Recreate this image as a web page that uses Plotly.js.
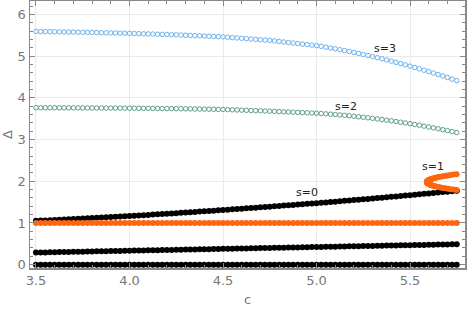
<!DOCTYPE html>
<html>
<head>
<meta charset="utf-8">
<script src="https://cdn.plot.ly/plotly-3.0.1.min.js"></script>
<style>html,body{margin:0;padding:0;background:#fff;}#chart{width:467px;height:309px;}</style>
</head>
<body>
<div id="chart"></div>
<script>
const c = [3.5,3.525,3.55,3.575,3.6,3.625,3.65,3.675,3.7,3.725,
3.75,3.775,3.8,3.825,3.85,3.875,3.9,3.925,3.95,3.975,
4,4.025,4.05,4.075,4.1,4.125,4.15,4.175,4.2,4.225,
4.25,4.275,4.3,4.325,4.35,4.375,4.4,4.425,4.45,4.475,
4.5,4.525,4.55,4.575,4.6,4.625,4.65,4.675,4.7,4.725,
4.75,4.775,4.8,4.825,4.85,4.875,4.9,4.925,4.95,4.975,
5,5.025,5.05,5.075,5.1,5.125,5.15,5.175,5.2,5.225,
5.25,5.275,5.3,5.325,5.35,5.375,5.4,5.425,5.45,5.475,
5.5,5.525,5.55,5.575,5.6,5.625,5.65,5.675,5.7,5.725,5.75];

const zeroBranch = [0,0,0,0,0,0,0,0,0,0, 0,0,0,0,0,0,0,0,0,0, 0,0,0,0,0,0,0,0,0,0,
0,0,0,0,0,0,0,0,0,0, 0,0,0,0,0,0,0,0,0,0, 0,0,0,0,0,0,0,0,0,0,
0,0,0,0,0,0,0,0,0,0, 0,0,0,0,0,0,0,0,0,0, 0,0,0,0,0,0,0,0,0,0,0];

const lowBranch = [0.290,0.292,0.294,0.297,0.299,0.301,0.303,0.306,0.308,0.310,
0.312,0.314,0.317,0.319,0.321,0.323,0.326,0.328,0.330,0.332,
0.334,0.337,0.339,0.341,0.343,0.346,0.348,0.350,0.352,0.354,
0.357,0.359,0.361,0.363,0.366,0.368,0.370,0.372,0.374,0.377,
0.379,0.381,0.383,0.386,0.388,0.390,0.392,0.394,0.397,0.399,
0.401,0.403,0.406,0.408,0.410,0.412,0.414,0.417,0.419,0.421,
0.423,0.426,0.428,0.430,0.432,0.434,0.437,0.439,0.441,0.443,
0.446,0.448,0.450,0.452,0.454,0.457,0.459,0.461,0.463,0.466,
0.468,0.470,0.472,0.474,0.477,0.479,0.481,0.483,0.486,0.488,0.490];

const s0 = [1.050,1.056,1.061,1.067,1.072,1.078,1.083,1.089,1.094,1.100,
1.105,1.111,1.117,1.123,1.129,1.135,1.141,1.147,1.153,1.159,
1.165,1.172,1.179,1.186,1.193,1.200,1.207,1.214,1.221,1.228,
1.235,1.243,1.250,1.258,1.265,1.273,1.280,1.288,1.295,1.303,
1.310,1.318,1.326,1.334,1.342,1.350,1.358,1.366,1.374,1.382,
1.390,1.399,1.407,1.416,1.424,1.433,1.441,1.450,1.458,1.467,
1.475,1.484,1.493,1.502,1.511,1.520,1.529,1.538,1.547,1.556,
1.565,1.575,1.585,1.595,1.605,1.615,1.625,1.635,1.645,1.655,
1.665,1.676,1.686,1.697,1.707,1.718,1.728,1.739,1.749,1.760,1.770];

const s1Flat = [1,1,1,1,1,1,1,1,1,1, 1,1,1,1,1,1,1,1,1,1, 1,1,1,1,1,1,1,1,1,1,
1,1,1,1,1,1,1,1,1,1, 1,1,1,1,1,1,1,1,1,1, 1,1,1,1,1,1,1,1,1,1,
1,1,1,1,1,1,1,1,1,1, 1,1,1,1,1,1,1,1,1,1, 1,1,1,1,1,1,1,1,1,1,1];

const foldC = [5.749,5.733,5.717,5.703,5.689,5.676,5.664,5.653,5.643,5.634,
5.626,5.618,5.612,5.606,5.601,5.597,5.594,5.592,5.590,5.590,
5.590,5.592,5.594,5.597,5.601,5.606,5.612,5.618,5.626,5.634,
5.643,5.653,5.664,5.676,5.689,5.703,5.717,5.733,5.749];
const foldD = [2.170,2.160,2.150,2.140,2.130,2.120,2.110,2.100,2.090,2.080,
2.070,2.060,2.050,2.040,2.030,2.020,2.010,2.000,1.990,1.980,
1.970,1.960,1.950,1.940,1.930,1.920,1.910,1.900,1.890,1.880,
1.870,1.860,1.850,1.840,1.830,1.820,1.810,1.800,1.790];

const s2 = [3.762,3.762,3.761,3.761,3.761,3.760,3.760,3.760,3.759,3.759,
3.758,3.757,3.756,3.756,3.755,3.754,3.753,3.753,3.752,3.751,
3.750,3.749,3.748,3.747,3.746,3.745,3.744,3.743,3.742,3.741,
3.740,3.738,3.736,3.734,3.732,3.730,3.728,3.726,3.724,3.722,
3.720,3.716,3.712,3.708,3.704,3.700,3.696,3.692,3.688,3.684,
3.680,3.675,3.670,3.665,3.660,3.655,3.650,3.645,3.640,3.635,
3.630,3.623,3.615,3.607,3.598,3.589,3.579,3.569,3.558,3.546,
3.534,3.521,3.507,3.493,3.479,3.463,3.448,3.431,3.414,3.397,
3.379,3.360,3.341,3.321,3.300,3.279,3.258,3.235,3.213,3.189,3.165];

const s3 = [5.590,5.588,5.586,5.584,5.582,5.580,5.578,5.576,5.574,5.572,
5.570,5.568,5.565,5.563,5.560,5.558,5.555,5.553,5.550,5.548,
5.545,5.542,5.538,5.535,5.531,5.528,5.524,5.521,5.517,5.514,
5.510,5.505,5.500,5.495,5.490,5.485,5.480,5.475,5.470,5.465,
5.460,5.452,5.443,5.435,5.426,5.418,5.409,5.401,5.392,5.384,
5.375,5.363,5.350,5.338,5.325,5.313,5.300,5.288,5.275,5.263,
5.250,5.232,5.213,5.194,5.174,5.153,5.132,5.110,5.087,5.063,
5.039,5.014,4.988,4.962,4.935,4.908,4.879,4.850,4.820,4.790,
4.759,4.727,4.695,4.661,4.628,4.593,4.558,4.522,4.485,4.448,4.410];

const labels = ['s=0','s=1','s=2','s=3'];
const labelC = [4.95, 5.625, 5.16, 5.366];
const labelD = [1.72, 2.35, 3.79, 5.17];

const black = '#000000', orange = '#ff6410', teal = '#5e9e8c', blue = '#6ab2ee';
function filled(x, y, col) {
  return {x:x, y:y, type:'scatter', mode:'markers', hoverinfo:'skip',
    marker:{symbol:'circle', size:6, color:col, line:{width:0}}};
}
function open(x, y, col) {
  return {x:x, y:y, type:'scatter', mode:'markers', hoverinfo:'skip',
    marker:{symbol:'circle-open', size:4.5, color:col, line:{width:1, color:col}}};
}
const data = [
  filled(c, zeroBranch, black),
  filled(c, lowBranch, black),
  filled(c, s0, black),
  filled(c, s1Flat, orange),
  filled(foldC, foldD, orange),
  open(c, s2, teal),
  open(c, s3, blue)
];

const axisCommon = {
  showline:true, linecolor:'#888', linewidth:1.5, mirror:'ticks',
  ticks:'inside', ticklen:5, tickwidth:1, tickcolor:'#888',
  showgrid:true, gridcolor:'#ebebeb', gridwidth:1, zeroline:false,
  tickfont:{family:'DejaVu Sans, sans-serif', size:13, color:'#777'}
};
const layout = {
  width:467, height:309,
  margin:{l:30, r:2, t:1, b:41},
  paper_bgcolor:'#fff', plot_bgcolor:'#fff',
  showlegend:false,
  xaxis: Object.assign({}, axisCommon, {
    range:[3.468, 5.794], tickmode:'linear', tick0:3.5, dtick:0.5, tickformat:'.1f',
    minor:{tickmode:'linear', tick0:3.5, dtick:0.1, ticks:'inside', ticklen:3, tickcolor:'#888', showgrid:false},
    title:{text:'c', font:{family:'DejaVu Sans, sans-serif', size:13, color:'#777'}, standoff:8}
  }),
  yaxis: Object.assign({}, axisCommon, {
    range:[-0.08, 6.32], tickmode:'linear', tick0:0, dtick:1,
    minor:{tickmode:'linear', tick0:0, dtick:0.2, ticks:'inside', ticklen:3, tickcolor:'#888', showgrid:false},
    title:{text:'Δ', font:{family:'DejaVu Sans, sans-serif', size:13, color:'#777'}, standoff:6}
  }),
  annotations: labels.map((t,i)=>({x:labelC[i], y:labelD[i], text:t, showarrow:false,
    font:{family:'DejaVu Sans, sans-serif', size:11, color:'#222'}}))
};
Plotly.newPlot('chart', data, layout, {displayModeBar:false, staticPlot:true});
</script>
</body>
</html>
